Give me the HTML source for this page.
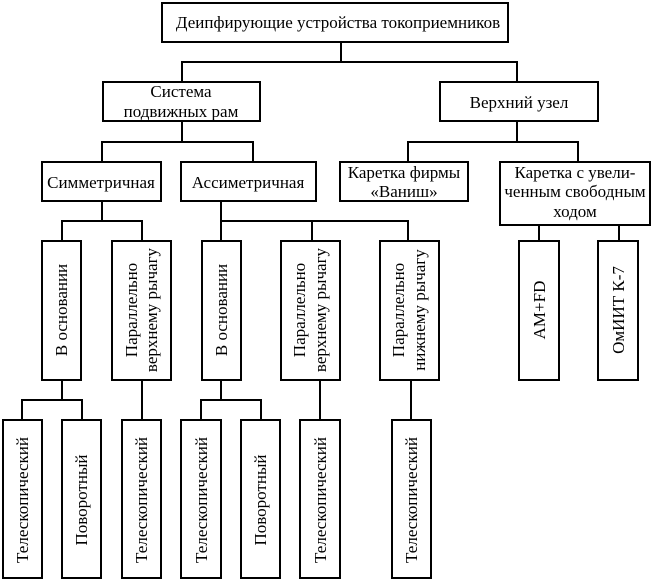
<!DOCTYPE html>
<html><head><meta charset="utf-8"><style>
html,body{margin:0;padding:0;background:#fff}
svg{display:block}
text{font-family:"Liberation Serif",serif;font-size:17px;fill:#000}
</style></head><body>
<svg width="662" height="582" viewBox="0 0 662 582" xmlns="http://www.w3.org/2000/svg">
<g fill="#fff" stroke="#000" stroke-width="2">
<rect x="162" y="3" width="346" height="39"/>
<rect x="103" y="82" width="157" height="39"/>
<rect x="440" y="82" width="158" height="39"/>
<rect x="42" y="162" width="119" height="39"/>
<rect x="181" y="162" width="135" height="39"/>
<rect x="340" y="162" width="128" height="39"/>
<rect x="500" y="162" width="150" height="63"/>
<rect x="42" y="241" width="39" height="139"/>
<rect x="112" y="241" width="59" height="139"/>
<rect x="202" y="241" width="39" height="139"/>
<rect x="281" y="241" width="59" height="139"/>
<rect x="380" y="241" width="59" height="139"/>
<rect x="519" y="241" width="40" height="139"/>
<rect x="598" y="241" width="40" height="139"/>
<rect x="3" y="420" width="39" height="158"/>
<rect x="62" y="420" width="39" height="158"/>
<rect x="122" y="420" width="39" height="158"/>
<rect x="181" y="420" width="40" height="158"/>
<rect x="241" y="420" width="39" height="158"/>
<rect x="300" y="420" width="40" height="158"/>
<rect x="392" y="420" width="39" height="158"/>
</g>
<g fill="none" stroke="#000" stroke-width="2">
<path d="M341 42V62M182 82V62H517V82"/>
<path d="M182 121V142M102 162V142H253V162"/>
<path d="M517 121V142M408 162V142H578V162"/>
<path d="M102 201V221M62 241V221H142V241"/>
<path d="M221 201V221M221 241V221M312 241V221M408 241V221H221"/>
<path d="M539 225V241M619 225V241"/>
<path d="M62 380V400M22 420V400H82V420"/>
<path d="M142 380V420"/>
<path d="M221 380V400M201 420V400H261V420"/>
<path d="M320 380V420"/>
<path d="M411 380V420"/>
</g>
<g text-anchor="middle">
<text x="338" y="28">Деипфирующие устройства токоприемников</text>
<text x="181" y="97">Система</text>
<text x="181" y="117">подвижных рам</text>
<text x="519" y="108">Верхний узел</text>
<text x="101" y="188">Симметричная</text>
<text x="248" y="188">Ассиметричная</text>
<text x="404" y="178">Каретка фирмы</text>
<text x="404" y="197">«Ваниш»</text>
<text x="575" y="178">Каретка с увели-</text>
<text x="575" y="197">ченным свободным</text>
<text x="575" y="217">ходом</text>
<g transform="translate(67,310) rotate(-90)"><text>В основании</text></g>
<g transform="translate(137,310) rotate(-90)"><text>Параллельно</text></g>
<g transform="translate(157,310) rotate(-90)"><text>верхнему рычагу</text></g>
<g transform="translate(227,310) rotate(-90)"><text>В основании</text></g>
<g transform="translate(305,310) rotate(-90)"><text>Параллельно</text></g>
<g transform="translate(326,310) rotate(-90)"><text>верхнему рычагу</text></g>
<g transform="translate(404,310) rotate(-90)"><text>Параллельно</text></g>
<g transform="translate(425,310) rotate(-90)"><text>нижнему рычагу</text></g>
<g transform="translate(545,310) rotate(-90)"><text>AM+FD</text></g>
<g transform="translate(624,310) rotate(-90)"><text>ОмИИТ К-7</text></g>
<g transform="translate(28,500) rotate(-90)"><text>Телескопический</text></g>
<g transform="translate(87,500) rotate(-90)"><text>Поворотный</text></g>
<g transform="translate(147,500) rotate(-90)"><text>Телескопический</text></g>
<g transform="translate(207,500) rotate(-90)"><text>Телескопический</text></g>
<g transform="translate(266,500) rotate(-90)"><text>Поворотный</text></g>
<g transform="translate(326,500) rotate(-90)"><text>Телескопический</text></g>
<g transform="translate(417,500) rotate(-90)"><text>Телескопический</text></g>
</g>
</svg>
</body></html>
